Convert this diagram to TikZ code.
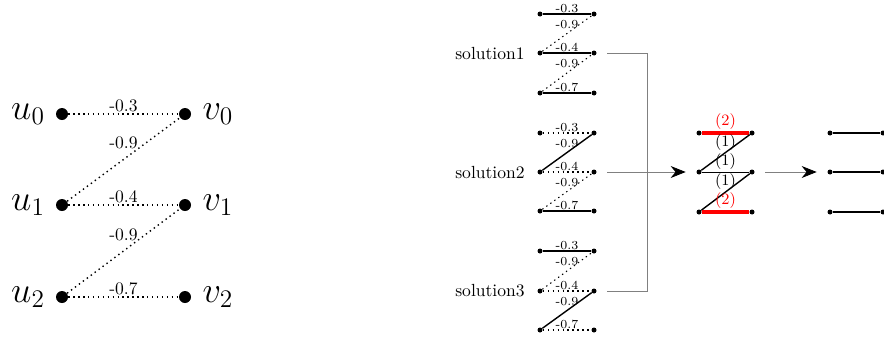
\documentclass[tikz,border=0pt]{standalone}
\usepackage{tikz}
\usetikzlibrary{arrows.meta}

\begin{document}
\begin{tikzpicture}[
  bigdot/.style={circle,fill=black,inner sep=0pt,minimum size=0.24cm},
  dot/.style={circle,fill=black,inner sep=0pt,minimum size=0.1cm},
  var/.style={font=\huge},
  opt/.style={thick,dotted},
  sel/.style={thick},
  heavy/.style={line width=2.6pt,red},
  w/.style={above,font=\normalsize,inner sep=1pt},
  sw/.style={above,font=\scriptsize,inner sep=0.5pt},
  cw/.style={above,font=\small,inner sep=1pt},
  link/.style={gray,shorten <=0.21cm},
  arr/.style={-{Stealth[length=3mm,width=2.4mm,color=black]},gray,shorten <=0.21cm,shorten >=0.21cm}]
\useasboundingbox (0,0) rectangle (17.68,6.86);
% the matching problem
\node[bigdot] (u0) at (1.24,4.58) {};
\node[bigdot] (u1) at (1.24,2.76) {};
\node[bigdot] (u2) at (1.24,0.92) {};
\node[bigdot] (v0) at (3.70,4.58) {};
\node[bigdot] (v1) at (3.70,2.76) {};
\node[bigdot] (v2) at (3.70,0.92) {};
\node[var] (lu0) at (0.56,4.58) {$u_0$};
\node[var] (lu1) at (0.56,2.76) {$u_1$};
\node[var] (lu2) at (0.56,0.92) {$u_2$};
\node[var] (lv0) at (4.36,4.58) {$v_0$};
\node[var] (lv1) at (4.36,2.76) {$v_1$};
\node[var] (lv2) at (4.36,0.92) {$v_2$};
\draw[opt] (u0) -- node[w]{-0.3} (v0);
\draw[opt] (u1) -- node[w,yshift=0.16cm]{-0.9} (v0);
\draw[opt] (u1) -- node[w]{-0.4} (v1);
\draw[opt] (u2) -- node[w,yshift=0.16cm]{-0.9} (v1);
\draw[opt] (u2) -- node[w]{-0.7} (v2);
% solution 1
\node (sol1) at (9.80,5.80) {solution1};
\node[dot] (a0) at (10.80,6.58) {};
\node[dot] (a1) at (10.80,5.80) {};
\node[dot] (a2) at (10.80,5.00) {};
\node[dot] (b0) at (11.88,6.58) {};
\node[dot] (b1) at (11.88,5.80) {};
\node[dot] (b2) at (11.88,5.00) {};
\draw[sel] (a0) -- node[sw]{-0.3} (b0);
\draw[opt,semithick] (a1) -- node[sw,yshift=0.07cm]{-0.9} (b0);
\draw[sel] (a1) -- node[sw]{-0.4} (b1);
\draw[opt,semithick] (a2) -- node[sw,yshift=0.07cm]{-0.9} (b1);
\draw[sel] (a2) -- node[sw]{-0.7} (b2);
% solution 2
\node (sol2) at (9.80,3.42) {solution2};
\node[dot] (c0) at (10.80,4.20) {};
\node[dot] (c1) at (10.80,3.42) {};
\node[dot] (c2) at (10.80,2.64) {};
\node[dot] (d0) at (11.88,4.20) {};
\node[dot] (d1) at (11.88,3.42) {};
\node[dot] (d2) at (11.88,2.64) {};
\draw[opt,semithick] (c0) -- node[sw]{-0.3} (d0);
\draw[sel] (c1) -- node[sw,yshift=0.07cm]{-0.9} (d0);
\draw[opt,semithick] (c1) -- node[sw]{-0.4} (d1);
\draw[opt,semithick] (c2) -- node[sw,yshift=0.07cm]{-0.9} (d1);
\draw[sel] (c2) -- node[sw]{-0.7} (d2);
% solution 3
\node (sol3) at (9.80,1.04) {solution3};
\node[dot] (e0) at (10.80,1.84) {};
\node[dot] (e1) at (10.80,1.04) {};
\node[dot] (e2) at (10.80,0.26) {};
\node[dot] (f0) at (11.88,1.84) {};
\node[dot] (f1) at (11.88,1.04) {};
\node[dot] (f2) at (11.88,0.26) {};
\draw[sel] (e0) -- node[sw]{-0.3} (f0);
\draw[opt,semithick] (e1) -- node[sw,yshift=0.07cm]{-0.9} (f0);
\draw[opt,semithick] (e1) -- node[sw]{-0.4} (f1);
\draw[sel] (e2) -- node[sw,yshift=0.07cm]{-0.9} (f1);
\draw[opt,semithick] (e2) -- node[sw]{-0.7} (f2);
% merged counts
\node[dot] (cu0) at (13.98,4.20) {};
\node[dot] (cu1) at (13.98,3.42) {};
\node[dot] (cu2) at (13.98,2.62) {};
\node[dot] (cv0) at (15.04,4.20) {};
\node[dot] (cv1) at (15.04,3.42) {};
\node[dot] (cv2) at (15.04,2.62) {};
\draw[heavy] (cu0) -- node[cw]{(2)} (cv0);
\draw[sel] (cu1) -- node[cw]{(1)} (cv0);
\draw[thin] (cu1) -- node[cw]{(1)} (cv1);
\draw[sel] (cu2) -- node[cw]{(1)} (cv1);
\draw[heavy] (cu2) -- node[cw]{(2)} (cv2);
% result
\node[dot] (ru0) at (16.60,4.20) {};
\node[dot] (ru1) at (16.60,3.42) {};
\node[dot] (ru2) at (16.60,2.62) {};
\node[dot] (rv0) at (17.66,4.20) {};
\node[dot] (rv1) at (17.66,3.42) {};
\node[dot] (rv2) at (17.66,2.62) {};
\draw[sel] (ru0) -- (rv0);
\draw[sel] (ru1) -- (rv1);
\draw[sel] (ru2) -- (rv2);
% connectors
\coordinate (join) at (12.94,3.42);
\draw[link] (b1) -| (join);
\draw[link] (f1) -| (join);
\draw[arr] (d1) -- (cu1);
\draw[arr] (cv1) -- (ru1);
\end{tikzpicture}
\end{document}
